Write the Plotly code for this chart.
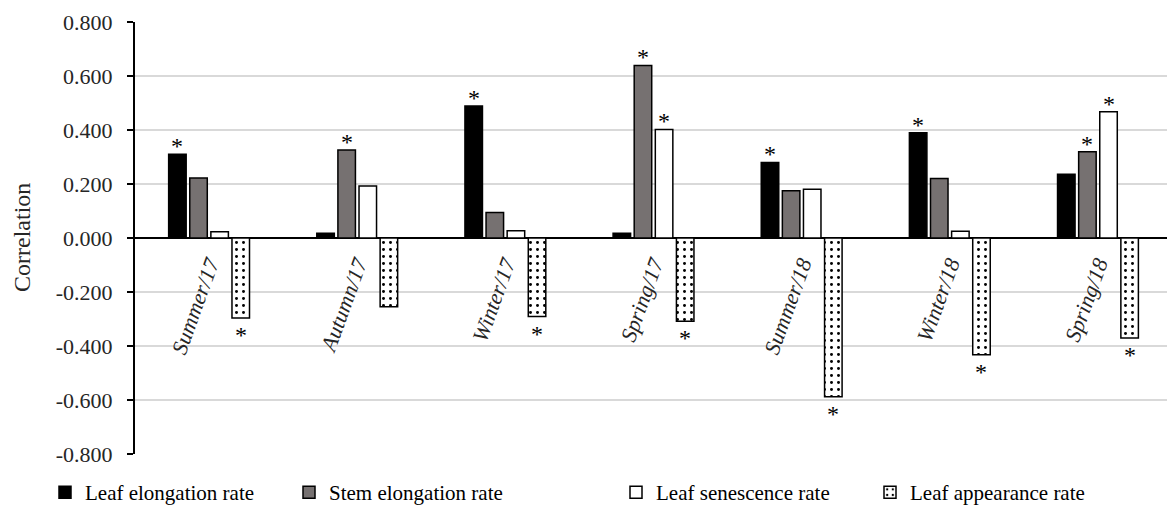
import plotly.graph_objects as go

categories = ["Summer/17", "Autumn/17", "Winter/17", "Spring/17", "Summer/18", "Winter/18", "Spring/18"]
leaf_elong = [0.310, 0.018, 0.489, 0.018, 0.280, 0.390, 0.236]
stem_elong = [0.222, 0.326, 0.094, 0.639, 0.175, 0.220, 0.319]
leaf_sen = [0.023, 0.193, 0.027, 0.402, 0.181, 0.025, 0.468]
leaf_app = [-0.296, -0.255, -0.291, -0.308, -0.588, -0.432, -0.370]
sig_leaf_elong = [1, 0, 1, 0, 1, 1, 0]
sig_stem_elong = [0, 1, 0, 1, 0, 0, 1]
sig_leaf_sen = [0, 0, 0, 1, 0, 0, 1]
sig_leaf_app = [1, 0, 1, 1, 1, 1, 1]
series_names = ["Leaf elongation rate", "Stem elongation rate", "Leaf senescence rate", "Leaf appearance rate"]
y_ticks = [-0.8, -0.6, -0.4, -0.2, 0.0, 0.2, 0.4, 0.6, 0.8]

W, H = 1167, 513
ML, MR, MT, MB = 135, 0, 22, 58
PW = W - ML - MR
PH = H - MT - MB
X_RANGE = [-0.5, 6.466]
BARGAP = 0.43
BARGROUPGAP = 0.17

FONT = "Liberation Serif"

series = [
    (leaf_elong, sig_leaf_elong, "black", None),
    (stem_elong, sig_stem_elong, "#767171", None),
    (leaf_sen, sig_leaf_sen, "white", None),
    (leaf_app, sig_leaf_app, "white", dict(shape=".", size=7, solidity=0.14, fgcolor="black", bgcolor="white", fillmode="replace")),
]

# legend square centres (pixels)
legend_sq_px = [57, 301, 628, 882]

fig = go.Figure()
for i, (vals, sig, color, pattern) in enumerate(series):
    marker = dict(color=color, line=dict(color="black", width=1.5))
    if pattern:
        marker["pattern"] = pattern
    fig.add_trace(go.Bar(
        x=categories, y=vals, name=series_names[i],
        marker=marker,
        cliponaxis=False,
        legend="legend" if i == 0 else f"legend{i+1}",
    ))

# significance asterisks, placed over each bar of the group
cat_px = PW / (X_RANGE[1] - X_RANGE[0])
slot_px = cat_px * (1 - BARGAP) / len(series)
for i, (vals, sig, color, pattern) in enumerate(series):
    xshift = (i - (len(series) - 1) / 2) * slot_px
    for c, v, s in zip(categories, vals, sig):
        if not s:
            continue
        fig.add_annotation(
            x=c, y=v, xref="x", yref="y", text="*", showarrow=False,
            xshift=xshift, yshift=8 if v > 0 else -17,
            xanchor="center", yanchor="middle",
            font=dict(family=FONT, size=24, color="black"),
        )

layout_legends = {}
for i, px in enumerate(legend_sq_px):
    key = "legend" if i == 0 else f"legend{i+1}"
    layout_legends[key] = dict(
        x=(px - 12 - ML) / PW, xanchor="left",
        y=(H - MB - 494) / PH, yanchor="middle",
        font=dict(family=FONT, size=21, color="black"),
        bgcolor="rgba(0,0,0,0)", itemwidth=30, tracegroupgap=0,
    )

fig.update_layout(
    width=W, height=H,
    margin=dict(l=ML, r=MR, t=MT, b=MB, pad=0),
    paper_bgcolor="white", plot_bgcolor="white",
    barmode="group", bargap=BARGAP, bargroupgap=BARGROUPGAP,
    showlegend=True,
    font=dict(family=FONT, color="black"),
    **layout_legends,
)
fig.update_xaxes(
    type="category", range=X_RANGE,
    anchor="free", position=0.5,
    showline=False, showgrid=False, ticks="",
    tickangle=-70,
    tickfont=dict(family=FONT, size=22, color="#262626", style="italic"),
    ticklabelstandoff=8,
)
fig.update_yaxes(
    range=[-0.8, 0.8], tickvals=y_ticks,
    ticktext=[f"{v:.3f}" for v in y_ticks],
    showline=True, linecolor="black", linewidth=2,
    ticks="outside", ticklen=6, tickwidth=2, tickcolor="black",
    showgrid=True, gridcolor="#d9d9d9", gridwidth=1.5,
    zeroline=True, zerolinecolor="black", zerolinewidth=1.5,
    tickfont=dict(family=FONT, size=22, color="#262626"),
    ticklabelstandoff=10,
)
fig.add_annotation(
    text="Correlation", textangle=-90,
    xref="paper", yref="paper",
    x=(22 - ML) / PW, y=0.5, xanchor="center", yanchor="middle",
    showarrow=False, font=dict(family=FONT, size=24, color="#262626"),
)
fig.write_html("out.html")
